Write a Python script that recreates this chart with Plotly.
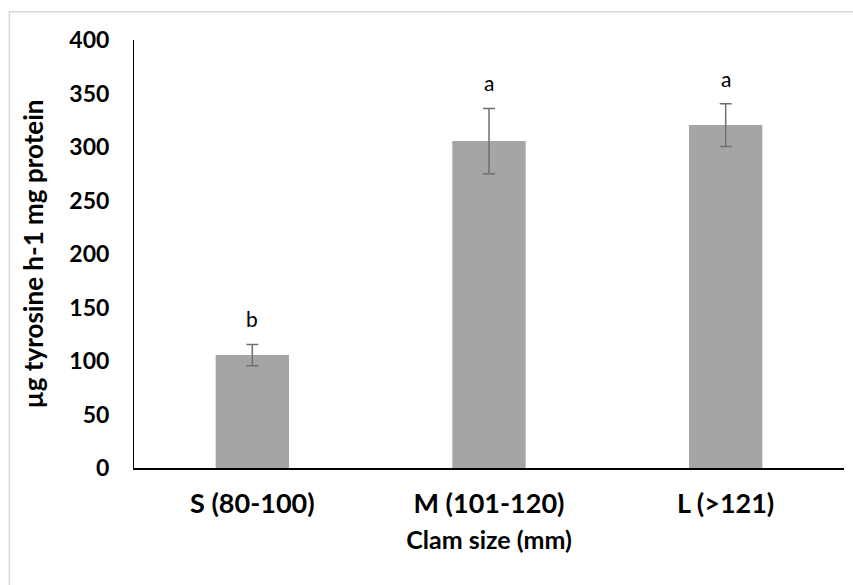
import plotly.graph_objects as go

# Protease activity by clam size class
categories = ["S (80-100)", "M (101-120)", "L (>121)"]
activity = [105.5, 305.5, 320.5]
errors = [10, 30.5, 20]
group_letters = ["b", "a", "a"]
y_ticks = [0, 50, 100, 150, 200, 250, 300, 350, 400]

FONT = "Lato"

fig = go.Figure()
fig.add_trace(go.Bar(
    x=categories,
    y=activity,
    width=0.31,
    marker=dict(color="#a5a5a5", line=dict(width=0)),
    error_y=dict(type="data", array=errors, visible=True,
                 color="#6f6f6f", thickness=1.5, width=6),
    showlegend=False,
))

# Significance letters above each error bar
for cat, val, err, letter in zip(categories, activity, errors, group_letters):
    fig.add_annotation(x=cat, y=val + err, text=letter, showarrow=False,
                       yanchor="bottom", yshift=11,
                       font=dict(family=FONT, size=21, color="#000000"))

# Light frame around the chart area
fig.add_shape(type="rect", xref="paper", yref="paper",
              x0=-0.1755, x1=1.2, y0=-0.5, y1=1.066,
              line=dict(color="#d9d9d9", width=1.5), layer="below")

fig.update_layout(
    width=853, height=585,
    margin=dict(l=134, r=9, t=40, b=117),
    paper_bgcolor="white", plot_bgcolor="white",
    bargap=0.69,
    font=dict(family=FONT, color="#000000"),
)
fig.update_xaxes(
    showline=True, linecolor="#000000", linewidth=1.5,
    showgrid=False, ticks="",
    ticklabelstandoff=11,
    tickfont=dict(family=FONT, size=27, color="#000000", weight="bold"),
    title=dict(text="Clam size (mm)", standoff=13,
               font=dict(family=FONT, size=25, color="#000000", weight="bold")),
)
fig.update_yaxes(
    range=[0, 400], tickvals=y_ticks,
    showline=True, linecolor="#000000", linewidth=1,
    showgrid=False, ticks="", zeroline=False,
    ticklabelstandoff=19,
    tickfont=dict(family=FONT, size=23, color="#000000", weight="bold"),
    title=dict(text="µg tyrosine h-1 mg protein", standoff=18,
               font=dict(family=FONT, size=26, color="#000000", weight="bold")),
)

fig.write_html("out.html")
